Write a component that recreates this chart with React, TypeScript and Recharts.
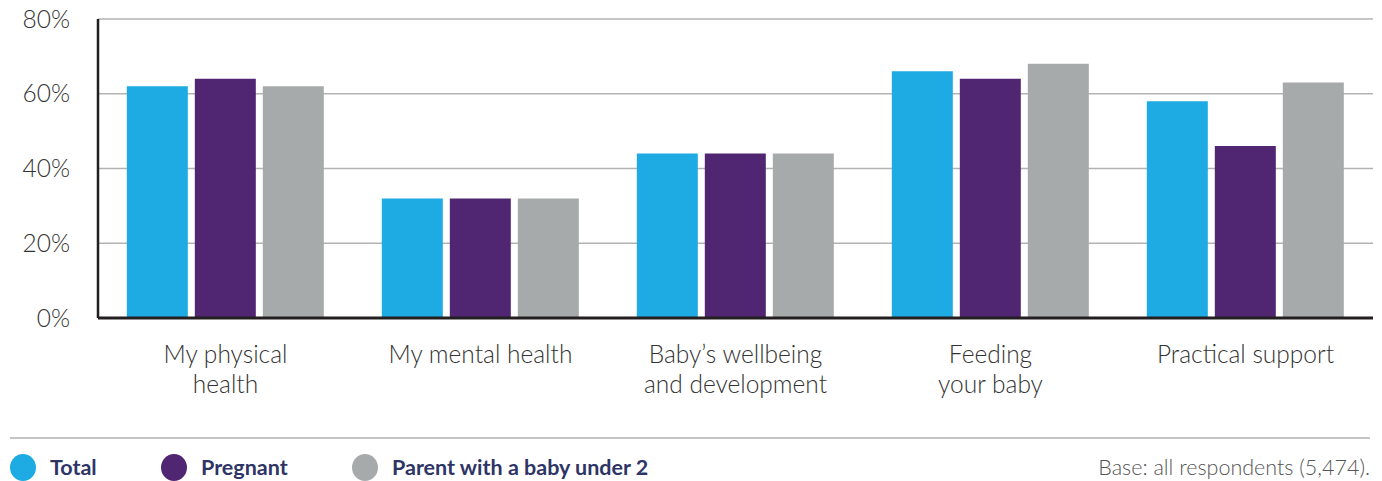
import { BarChart, Bar, XAxis, YAxis, CartesianGrid } from "recharts";

const categories = [
  "My physical\nhealth",
  "My mental health",
  "Baby’s wellbeing\nand development",
  "Feeding\nyour baby",
  "Practical support",
];
const total = [62, 32, 44, 66, 58];
const pregnant = [64, 32, 44, 64, 46];
const parentUnder2 = [62, 32, 44, 68, 63];
const yTicks = [0, 20, 40, 60, 80];

const series = [
  { key: "total", name: "Total", color: "#1eaae2" },
  { key: "pregnant", name: "Pregnant", color: "#502673" },
  { key: "parent", name: "Parent with a baby under 2", color: "#a7aaab" },
];

const data = categories.map((c, i) => ({
  name: c,
  total: total[i],
  pregnant: pregnant[i],
  parent: parentUnder2[i],
}));

const FONT = "Lato, 'Open Sans', sans-serif";

function YTick(props: any) {
  const { y, payload } = props;
  return (
    <text x={70} y={y} dy={8.5} textAnchor="end" fontSize={24.5} fontWeight={300} fill="#333" fontFamily={FONT}>
      {payload.value}%
    </text>
  );
}

function XTick(props: any) {
  const { x, y, payload } = props;
  const lines = String(payload.value).split("\n");
  return (
    <text x={x} y={y + 37} textAnchor="middle" fontSize={24.5} fontWeight={300} fill="#333" fontFamily={FONT}>
      {lines.map((l, i) => (
        <tspan key={i} x={x} dy={i === 0 ? 0 : 30}>
          {l}
        </tspan>
      ))}
    </text>
  );
}

export default function App() {
  return (
    <div style={{ position: "absolute", left: 0, top: 0, width: 1382, height: 481, background: "#fff", fontFamily: FONT }}>
      <BarChart
        width={1382}
        height={430}
        data={data}
        margin={{ top: 19, right: 9, bottom: 12, left: 0 }}
        barGap={7}
        barCategoryGap="11.3%"
      >
        <CartesianGrid horizontal vertical={false} stroke="#b3b3b3" strokeWidth={1.5} />
        <XAxis
          dataKey="name"
          height={100}
          tick={<XTick />}
          tickLine={false}
          axisLine={{ stroke: "#231f20", strokeWidth: 3 }}
          interval={0}
        />
        <YAxis
          width={98}
          domain={[0, 80]}
          ticks={yTicks}
          tick={<YTick />}
          tickLine={false}
          axisLine={{ stroke: "#231f20", strokeWidth: 2.5 }}
        />
        {series.map((s) => (
          <Bar key={s.key} dataKey={s.key} name={s.name} fill={s.color} isAnimationActive={false} />
        ))}
      </BarChart>
      <div style={{ position: "absolute", left: 10, top: 437, width: 1360, borderTop: "2px solid #c4c4c4" }} />
      {series.map((s, i) => {
        const lefts = [10, 161, 352];
        return (
          <div
            key={s.key}
            style={{ position: "absolute", left: lefts[i], top: 453, height: 28, display: "flex", alignItems: "center" }}
          >
            <span style={{ width: 26, height: 27, borderRadius: "50%", background: s.color, display: "inline-block" }} />
            <span style={{ marginLeft: 14, fontSize: 21.5, fontWeight: 700, color: "#2e3566" }}>{s.name}</span>
          </div>
        );
      })}
      <div style={{ position: "absolute", right: 12, top: 454, fontSize: 21.5, fontWeight: 300, color: "#555" }}>
        Base: all respondents (5,474).
      </div>
    </div>
  );
}
